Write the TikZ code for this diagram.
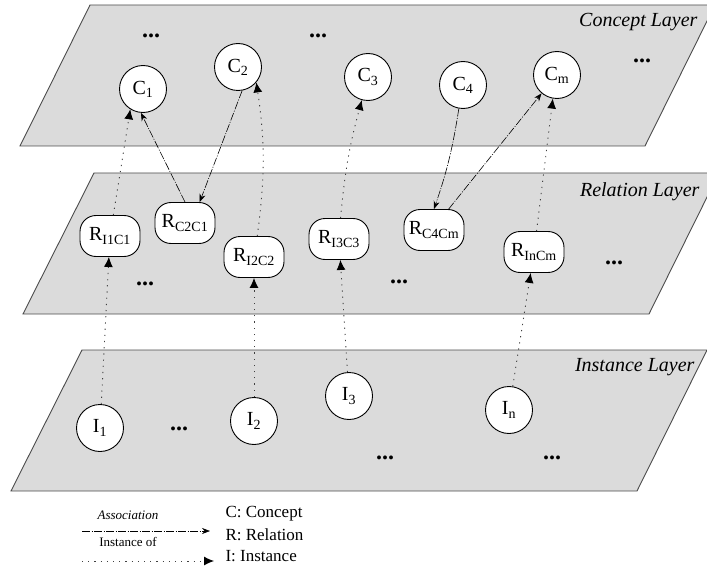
\documentclass[tikz,border=0pt]{standalone}
\usepackage{fontspec}
\setmainfont{Liberation Serif}
\usetikzlibrary{arrows.meta}

\begin{document}
\begin{tikzpicture}[x=1pt,y=-1pt,
  layer/.style={fill=black!14,draw=black!70,line width=0.9pt},
  laylabel/.style={anchor=east,font=\fontsize{20}{20}\selectfont\itshape},
  cnode/.style={circle,draw,line width=0.9pt,fill=white,minimum size=47pt,inner sep=0pt,font=\fontsize{20}{20}\selectfont},
  rnode/.style={rectangle,rounded corners=16pt,draw,line width=0.9pt,fill=white,minimum width=60pt,minimum height=41pt,inner sep=2pt,font=\fontsize{20}{20}\selectfont},
  more/.style={font=\fontsize{24}{24}\selectfont\bfseries},
  assoc/.style={line width=0.6pt,dash pattern=on 8pt off 1.5pt on 1pt off 1.5pt,-{Stealth[length=8pt,width=6pt]}},
  inst/.style={draw=black!75,line width=0.9pt,dash pattern=on 1.2pt off 5pt,-{Latex[length=10pt,width=9pt,color=black]}},
  key/.style={anchor=west,font=\fontsize{17}{17}\selectfont},
]
  \useasboundingbox (0,0) rectangle (707,567);

  %------ layers
  \draw[layer] (20,146) -- (645,146) -- (715,5) -- (90,5) -- cycle;
  \draw[layer] (23,314) -- (649,314) -- (719,173) -- (94,173) -- cycle;
  \draw[layer] (11,491) -- (637,491) -- (707,350) -- (82,350) -- cycle;

  \node[laylabel] (lc) at (701,22) {Concept Layer};
  \node[laylabel] (lr) at (703,192) {Relation Layer};
  \node[laylabel] (li) at (698,367) {Instance Layer};

  %------ concept layer
  \node[cnode] (c1) at (143,89) {C\textsubscript{1}};
  \node[cnode] (c2) at (238,67) {C\textsubscript{2}};
  \node[cnode] (c3) at (368,77) {C\textsubscript{3}};
  \node[cnode] (c4) at (463,85) {C\textsubscript{4}};
  \node[cnode] (cm) at (557,75) {C\textsubscript{m}};
  \node[more] (dc1) at (151,36) {...};
  \node[more] (dc2) at (318,36) {...};
  \node[more] (dc3) at (642,61) {...};

  %------ relation layer
  \node[rnode] (r11) at (110,236) {R\textsubscript{I1C1}};
  \node[rnode] (r21) at (185,223) {R\textsubscript{C2C1}};
  \node[rnode] (r22) at (254,257) {R\textsubscript{I2C2}};
  \node[rnode] (r33) at (339,239) {R\textsubscript{I3C3}};
  \node[rnode] (r4m) at (434,230) {R\textsubscript{C4Cm}};
  \node[rnode] (rnm) at (534,252) {R\textsubscript{InCm}};
  \node[more] (dr1) at (145,284) {...};
  \node[more] (dr2) at (399,282) {...};
  \node[more] (dr3) at (614,263) {...};

  %------ instance layer
  \node[cnode] (i1) at (100,428) {I\textsubscript{1}};
  \node[cnode] (i2) at (254,421) {I\textsubscript{2}};
  \node[cnode] (i3) at (349,396) {I\textsubscript{3}};
  \node[cnode] (iN) at (509,410) {I\textsubscript{n}};
  \node[more] (di1) at (179,429) {...};
  \node[more] (di2) at (385,458) {...};
  \node[more] (di3) at (552,458) {...};

  %------ instance of
  \draw[inst] (i1) -- (r11);
  \draw[inst] (r11) -- (c1.-122);
  \draw[inst] (i2) -- (r22);
  \draw[inst] (r22) to[bend right=8] (c2.-40);
  \draw[inst] (i3) -- (r33);
  \draw[inst] (r33) to[bend left=5] (c3.-105);
  \draw[inst] (iN) -- (rnm);
  \draw[inst] (rnm) -- (cm.-100);

  %------ association
  \draw[assoc] (r21.north) -- (c1.-95);
  \draw[assoc] (c2.-80) -- (r21.55);
  \draw[assoc] (c4.-100) to[bend left=5] (r4m.north);
  \draw[assoc] (r4m.55) -- (cm.-130);

  %------ legend
  \node[font=\fontsize{13}{13}\selectfont\itshape] (lasc) at (128,515) {Association};
  \node[font=\fontsize{13}{13}\selectfont] (lins) at (128,542) {Instance of};
  \coordinate (a1) at (82,531);
  \coordinate (a2) at (210,531);
  \draw[assoc] (a1) -- (a2);
  \coordinate (b1) at (82,561);
  \coordinate (b2) at (214,561);
  \draw[inst] (b1) -- (b2);
  \node[key] (kc) at (222,514) {C: Concept};
  \node[key] (kr) at (222,535) {R: Relation};
  \node[key] (ki) at (222,556) {I: Instance};

\end{tikzpicture}
\end{document}
